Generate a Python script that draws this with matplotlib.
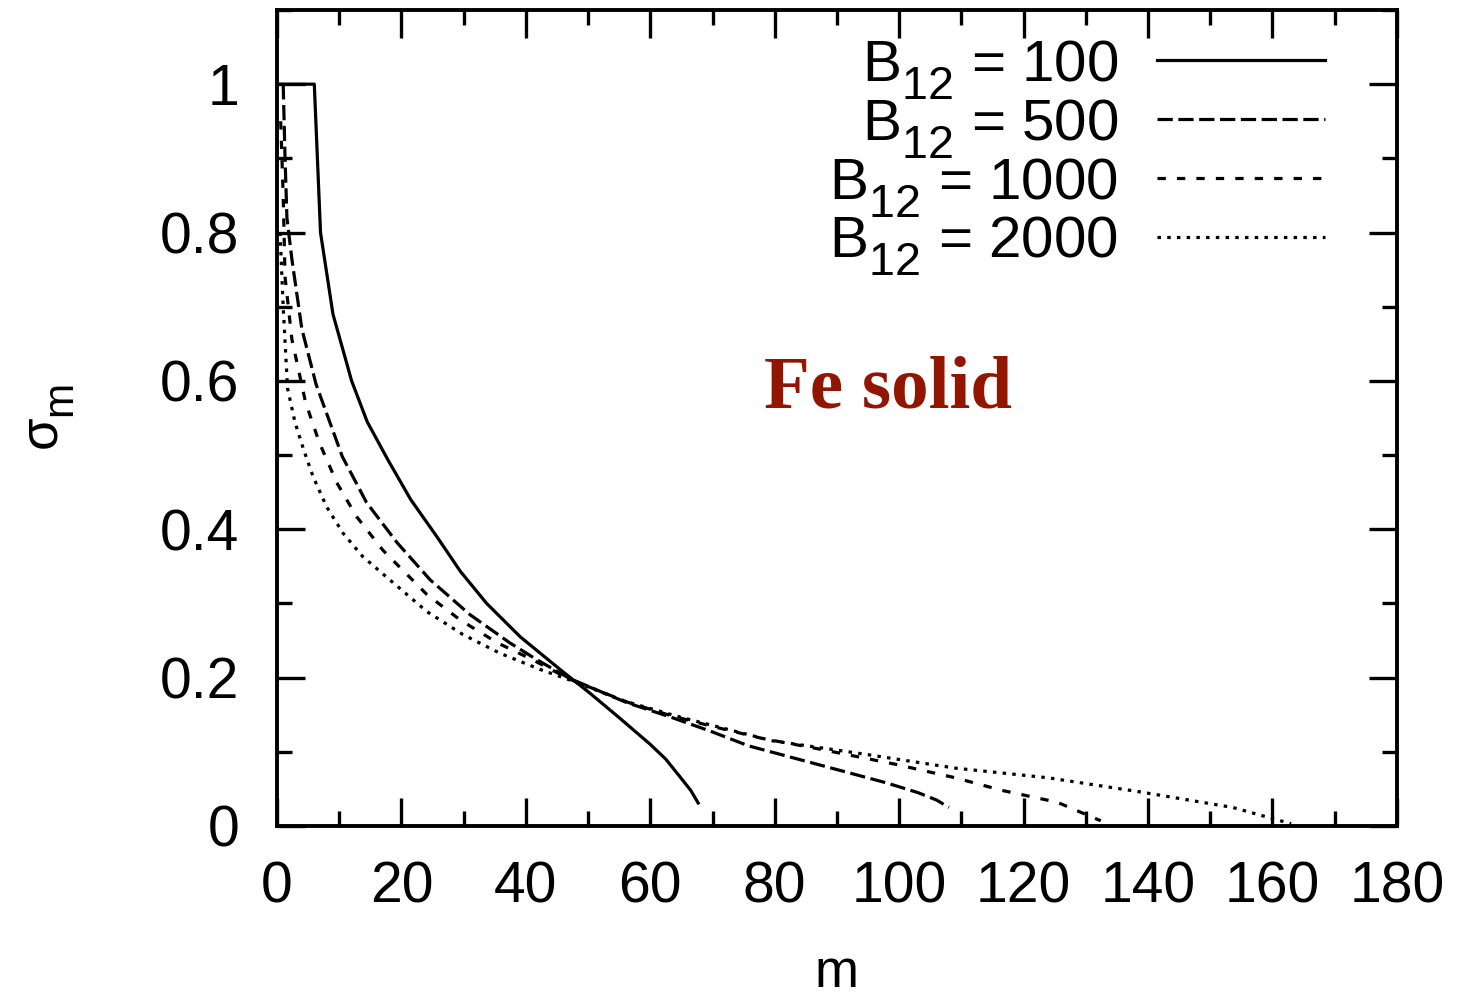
import matplotlib
matplotlib.use("Agg")
import matplotlib.pyplot as plt
from matplotlib.ticker import MultipleLocator
import matplotlib._mathtext as _mt

plt.rcParams["font.family"] = ["Liberation Sans", "DejaVu Sans"]
plt.rcParams["mathtext.fontset"] = "custom"
plt.rcParams["mathtext.rm"] = "Liberation Sans"
plt.rcParams["mathtext.it"] = "Liberation Sans"
plt.rcParams["lines.scale_dashes"] = False

# larger, lower subscripts in the style of the gnuplot enhanced-text labels
try:
    _mt.SHRINK_FACTOR = 0.8
    _mt.FontConstantsBase.sub1 = 0.6
except Exception:
    pass

# sigma_m versus m for several field strengths B12
m_100 = [0, 6, 7, 9, 12.0, 14.5, 17.8, 21.5, 25.7, 29.5, 33.7, 39.1, 45.5, 50.3, 55.0, 60.0, 62.5, 64.8, 66.5, 67.7]
s_100 = [1.0, 1.0, 0.80, 0.69, 0.60, 0.545, 0.494, 0.44, 0.39, 0.343, 0.30, 0.255, 0.211, 0.179, 0.146, 0.11, 0.09, 0.066, 0.048, 0.031]

m_500 = [1.0, 1.3, 1.6, 2.4, 4.0, 6.3, 10.5, 14.4, 19.3, 24.6, 31.0, 37.4, 41.8, 47.0, 56.3, 63.2, 69.6, 75.8, 86.9, 98.0, 103.0, 106.0, 108.0]
s_500 = [1.0, 0.90, 0.82, 0.764, 0.67, 0.595, 0.498, 0.436, 0.382, 0.332, 0.285, 0.247, 0.224, 0.199, 0.166, 0.147, 0.128, 0.108, 0.083, 0.058, 0.045, 0.035, 0.025]

m_1000 = [0.6, 1.0, 1.3, 2.4, 4.6, 6.8, 9.6, 12.8, 17.0, 24.1, 29.4, 35.4, 41.1, 47.0, 56.3, 63.2, 69.6, 78.0, 87.0, 99.5, 109.0, 116.5, 125.4, 132.4]
s_1000 = [0.95, 0.85, 0.74, 0.656, 0.571, 0.517, 0.463, 0.417, 0.372, 0.312, 0.278, 0.247, 0.224, 0.198, 0.167, 0.149, 0.135, 0.118, 0.104, 0.083, 0.065, 0.048, 0.032, 0.007]

m_2000 = [0.5, 1.0, 1.7, 2.9, 4.3, 5.8, 8.0, 10.6, 13.8, 24.1, 29.9, 35.8, 42.3, 47.0, 56.0, 64.7, 79.5, 94.3, 109.0, 123.9, 138.7, 153.6, 163.0]
s_2000 = [0.80, 0.70, 0.59, 0.544, 0.507, 0.471, 0.43, 0.395, 0.363, 0.289, 0.258, 0.233, 0.211, 0.197, 0.168, 0.147, 0.115, 0.097, 0.078, 0.065, 0.046, 0.025, 0.003]

labels = [r"B$_{12}$ = 100", r"B$_{12}$ = 500", r"B$_{12}$ = 1000", r"B$_{12}$ = 2000"]

fig = plt.figure(figsize=(14.6, 9.99), dpi=100)
ax = fig.add_axes([0.1897, 0.1732, 0.9568 - 0.1897, 0.99 - 0.1732])

lw = 2.3
ax.plot(m_100, s_100, color="black", lw=lw, linestyle="-", label=labels[0])
ax.plot(m_500, s_500, color="black", lw=lw, linestyle=(0, (11, 4)), dash_capstyle="butt", label=labels[1])
ax.plot(m_1000, s_1000, color="black", lw=lw, linestyle=(0, (6, 8)), dash_capstyle="butt", label=labels[2])
ax.plot(m_2000, s_2000, color="black", lw=lw, linestyle=(0, (2.5, 4.5)), dash_capstyle="butt", label=labels[3])

ax.set_xlim(0, 180)
ax.set_ylim(0, 1.1)
ax.xaxis.set_major_locator(MultipleLocator(20))
ax.xaxis.set_minor_locator(MultipleLocator(10))
ax.yaxis.set_major_locator(MultipleLocator(0.2))
ax.yaxis.set_minor_locator(MultipleLocator(0.1))
ax.set_yticks([0, 0.2, 0.4, 0.6, 0.8, 1.0])
ax.set_yticklabels(["0", "0.2", "0.4", "0.6", "0.8", "1"])

for s in ax.spines.values():
    s.set_linewidth(2.8)
ax.tick_params(which="both", direction="in", top=True, right=True, width=2.4, labelsize=41)
ax.tick_params(which="major", length=20)
ax.tick_params(which="minor", length=11)
ax.tick_params(axis="y", pad=27)
ax.tick_params(axis="x", pad=25)

ax.set_xlabel("m", fontsize=38, labelpad=24)
ax.set_ylabel(r"$\sigma_{\rm m}$", fontsize=38, labelpad=60)

ax.text(98.2, 0.588, "Fe solid", color="#921500", fontsize=54, fontweight="bold",
        family="Liberation Serif", ha="center", va="center")

leg = ax.legend(loc="upper right", bbox_to_anchor=(0.936, 0.966), frameon=False,
                fontsize=42, markerfirst=False, handlelength=2.88, handletextpad=0.67,
                labelspacing=-0.07, borderpad=0, borderaxespad=0)
for col in leg._legend_handle_box.get_children():
    col.align = "right"

fig.savefig("out.png", dpi=100)
